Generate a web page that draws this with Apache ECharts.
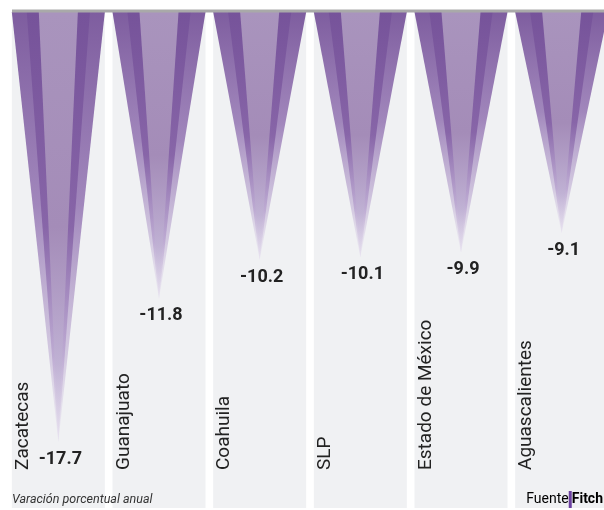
<!DOCTYPE html>
<html>
<head>
<meta charset="utf-8">
<script src="https://cdn.jsdelivr.net/npm/echarts@6/dist/echarts.min.js"></script>
<style>
html,body{margin:0;padding:0;background:#fff;overflow:hidden;width:604px;height:510px;}
#c{width:612px;height:510px;}
</style>
</head>
<body>
<div id="c"></div>
<script>
const categories = ['Zacatecas', 'Guanajuato', 'Coahuila', 'SLP', 'Estado de México', 'Aguascalientes'];
const values = [-17.7, -11.8, -10.2, -10.1, -9.9, -9.1];
const axisMin = -20.4;
const backgroundValues = categories.map(() => axisMin);

function grad(stops) {
  return new echarts.graphic.LinearGradient(0, 0, 0, 1, stops.map(c => ({offset: c[0], color: c[1]})));
}
const layers = [
  {w: 1.0, stops: [[0, '#7e5d9f'], [0.45, 'rgba(150,120,180,0.88)'], [0.8, 'rgba(192,175,212,0.6)'], [1, 'rgba(228,220,238,0.3)']]},
  {w: 0.68, stops: [[0, '#76539a'], [0.5, 'rgba(133,98,166,0.92)'], [0.8, 'rgba(178,155,203,0.65)'], [1, 'rgba(225,215,235,0.3)']]},
  {w: 0.42, stops: [[0, '#a994bd'], [0.5, '#a48cb8'], [0.82, 'rgba(192,178,212,0.85)'], [1, 'rgba(232,225,240,0.5)']]}
];

function renderTri(params, api) {
  const i = api.value(0), v = api.value(1);
  const top = api.coord([i, 0]);
  const tip = api.coord([i, v]);
  const full = api.size([1, 0])[0] * 0.924;
  const cx = tip[0];
  const children = layers.map(L => ({
    type: 'polygon',
    shape: {points: [[cx - full * L.w / 2, top[1]], [cx + full * L.w / 2, top[1]], [cx, tip[1]]]},
    style: {fill: grad(L.stops)}
  }));
  children.push({
    type: 'text', x: cx + 2, y: tip[1] + 8,
    style: {text: v.toFixed(1), align: 'center', verticalAlign: 'top',
      font: 'bold 18px "Liberation Sans Narrow", Roboto, sans-serif', fill: '#222'}
  });
  return {type: 'group', children};
}

const chart = echarts.init(document.getElementById('c'), null, {renderer: 'canvas'});
chart.setOption({
  animation: false,
  grid: {left: 8, right: 0, top: 12, bottom: 2},
  xAxis: {type: 'category', data: categories, show: false},
  yAxis: {type: 'value', min: axisMin, max: 0, show: false},
  series: [
    {
      type: 'bar', data: backgroundValues, barWidth: '92.4%', z: 1,
      itemStyle: {color: '#f0f1f3'}, silent: true,
      label: {
        show: true, formatter: '{b}', rotate: 90, position: [2, 458],
        align: 'left', verticalAlign: 'top',
        fontFamily: 'Roboto', fontSize: 19, color: '#222'
      }
    },
    {
      type: 'custom', z: 3, silent: true,
      data: values.map((v, i) => [i, v]),
      encode: {x: 0, y: 1},
      renderItem: renderTri
    }
  ],
  graphic: [
    {type: 'rect', left: 12, top: 9.5, shape: {width: 600, height: 3}, style: {fill: '#a9a9a9'}, z: 100},
    {type: 'text', left: 12, top: 493, style: {text: 'Varación porcentual anual', font: 'italic 12.5px Roboto', fill: '#333'}, z: 100},
    {type: 'text', right: 9, top: 491, z: 100, style: {
      text: '{a|Fuente}{bar|}{b|Fitch}',
      rich: {
        a: {fontFamily: 'Roboto', fontSize: 14, color: '#333'},
        bar: {backgroundColor: '#6b3fa0', width: 3, height: 17},
        b: {fontFamily: 'Roboto', fontSize: 14, fontWeight: 'bold', color: '#222'}
      }
    }}
  ]
});
</script>
</body>
</html>
